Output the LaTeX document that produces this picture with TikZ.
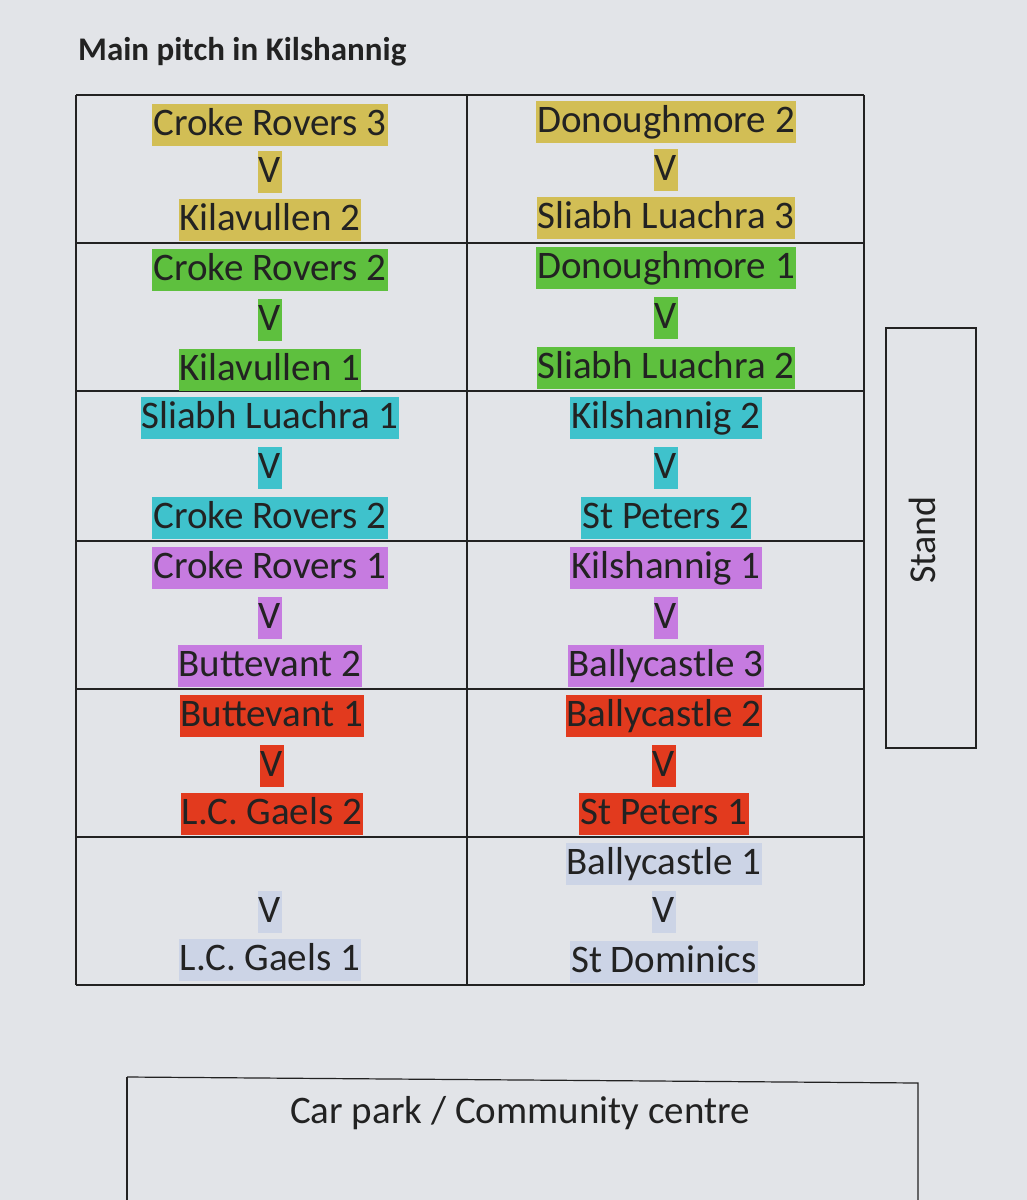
\documentclass[tikz,border=0pt]{standalone}
\usepackage{fontspec}
\setmainfont{Carlito}
\definecolor{bg}{HTML}{E2E4E8}
\definecolor{cy}{HTML}{D2BE55}
\definecolor{cg}{HTML}{5EC03E}
\definecolor{cc}{HTML}{3FC2CC}
\definecolor{cp}{HTML}{C67BE0}
\definecolor{cr}{HTML}{E23A1E}
\definecolor{cb}{HTML}{CCD4E6}
\definecolor{ink}{HTML}{222222}
\tikzset{team/.style={fill=#1,inner xsep=1pt,inner ysep=0pt,text height=31pt,text depth=11pt,font=\fontsize{39}{42}\selectfont,text=ink},
 grid/.style={draw=ink,line width=1.2pt}}
\begin{document}
\begin{tikzpicture}[x=1pt,y=-1pt]
\useasboundingbox (0,0) rectangle (1027,1200);
\fill[bg] (0,0) rectangle (1027,1200);
\node[anchor=west,font=\fontsize{33}{36}\selectfont\bfseries,text=ink,inner sep=0pt] (title) at (78,52) {Main pitch in Kilshannig};
\foreach \y in {95,243,391,541,689,837,985} \draw[grid] (76,\y) -- (864,\y);
\draw[grid] (76,95) -- (76,985);
\draw[grid] (467,95) -- (467,985);
\draw[grid] (864,95) -- (864,985);
% row 1
\node[team=cy] (a1) at (270,125) {Croke Rovers 3};
\node[team=cy] (a2) at (270,172) {V};
\node[team=cy] (a3) at (270,220) {Kilavullen 2};
\node[team=cy] (b1) at (666,122) {Donoughmore 2};
\node[team=cy] (b2) at (666,170) {V};
\node[team=cy] (b3) at (666,218) {Sliabh Luachra 3};
% row 2
\node[team=cg] (c1) at (270,270) {Croke Rovers 2};
\node[team=cg] (c2) at (270,320) {V};
\node[team=cg] (c3) at (270,370) {Kilavullen 1};
\node[team=cg] (d1) at (666,268) {Donoughmore 1};
\node[team=cg] (d2) at (666,318) {V};
\node[team=cg] (d3) at (666,368) {Sliabh Luachra 2};
% row 3
\node[team=cc] (e1) at (270,418) {Sliabh Luachra 1};
\node[team=cc] (e2) at (270,468) {V};
\node[team=cc] (e3) at (270,518) {Croke Rovers 2};
\node[team=cc] (f1) at (666,418) {Kilshannig 2};
\node[team=cc] (f2) at (666,468) {V};
\node[team=cc] (f3) at (666,518) {St Peters 2};
% row 4
\node[team=cp] (g1) at (270,568) {Croke Rovers 1};
\node[team=cp] (g2) at (270,618) {V};
\node[team=cp] (g3) at (270,666) {Buttevant 2};
\node[team=cp] (h1) at (666,568) {Kilshannig 1};
\node[team=cp] (h2) at (666,618) {V};
\node[team=cp] (h3) at (666,666) {Ballycastle 3};
% row 5
\node[team=cr] (i1) at (272,716) {Buttevant 1};
\node[team=cr] (i2) at (272,766) {V};
\node[team=cr] (i3) at (272,814) {L.C. Gaels 2};
\node[team=cr] (j1) at (664,716) {Ballycastle 2};
\node[team=cr] (j2) at (664,766) {V};
\node[team=cr] (j3) at (664,814) {St Peters 1};
% row 6
\node[team=cb] (k2) at (270,912) {V};
\node[team=cb] (k3) at (270,960) {L.C. Gaels 1};
\node[team=cb] (l1) at (664,864) {Ballycastle 1};
\node[team=cb] (l2) at (664,912) {V};
\node[team=cb] (l3) at (664,962) {St Dominics};
% stand
\draw[grid] (886,328) rectangle (976,748);
\node[rotate=90,font=\fontsize{38}{40}\selectfont,text=ink] (stand) at (922,540) {Stand};
% car park
\draw[grid] (127,1077) -- (918,1083) -- (918,1200);
\draw[grid] (127,1077) -- (127,1200);
\node[font=\fontsize{39}{42}\selectfont,text=ink] (car) at (520,1113) {Car park / Community centre};
\end{tikzpicture}
\end{document}
